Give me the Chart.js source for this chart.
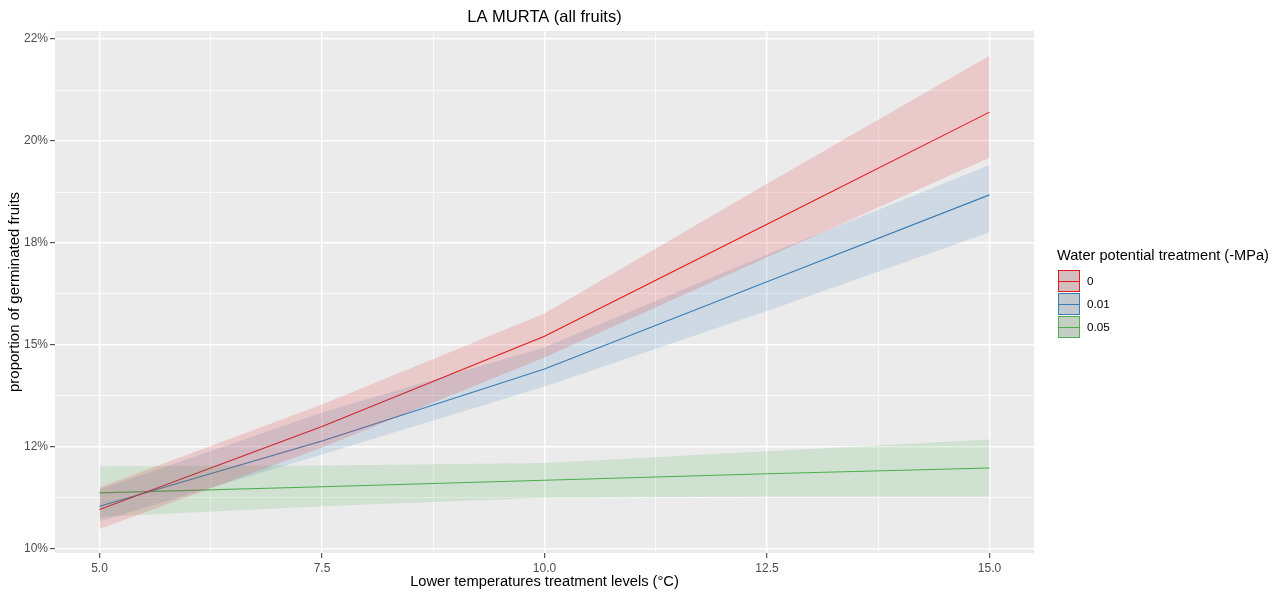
<!DOCTYPE html>
<html>
<head>
<meta charset="utf-8">
<script src="https://cdn.jsdelivr.net/npm/chart.js@4/dist/chart.umd.min.js"></script>
<style>
  html, body { margin: 0; padding: 0; background: #fff; }
  #wrap { width: 1283px; height: 596px; position: relative; }
</style>
</head>
<body>
<div id="wrap"><canvas id="chart"></canvas></div>
<script>
// data
const temps = [5, 7.5, 10, 12.5, 15];
const waterLevels = ["0", "0.01", "0.05"];
const fit0 = [10.96, 13.0, 15.21, 17.96, 20.71];
const low0 = [10.48, 12.48, 14.69, 17.15, 19.59];
const high0 = [11.5, 13.54, 15.77, 18.95, 22.09];
const fit001 = [11.04, 12.64, 14.41, 16.55, 18.68];
const low001 = [10.67, 12.31, 13.98, 15.83, 17.76];
const high001 = [11.45, 13.34, 14.94, 17.22, 19.41];
const fit005 = [11.37, 11.52, 11.68, 11.84, 11.98];
const low005 = [10.78, 11.04, 11.25, 11.28, 11.28];
const high005 = [12.02, 12.04, 12.1, 12.39, 12.68];

const xMajor = [5, 7.5, 10, 12.5, 15];
const xMinor = [6.25, 8.75, 11.25, 13.75];
const yMajor = [10, 12.5, 15, 17.5, 20, 22.5];
const yMinor = [11.25, 13.75, 16.25, 18.75, 21.25];
const yLabels = ["10%", "12%", "15%", "18%", "20%", "22%"];

const title = "LA MURTA (all fruits)";
const xTitle = "Lower temperatures treatment levels (°C)";
const yTitle = "proportion of germinated fruits";
const legendTitle = "Water potential treatment (-MPa)";

const colors = ["#E41A1C", "#377EB8", "#4DAF4A"];
const fits = [fit0, fit001, fit005];
const lows = [low0, low001, low005];
const highs = [high0, high001, high005];

function points(values) {
  return values.map((v, i) => ({ x: temps[i], y: v }));
}

function alpha(hex, a) {
  const n = parseInt(hex.slice(1), 16);
  return `rgba(${(n >> 16) & 255},${(n >> 8) & 255},${n & 255},${a})`;
}

const datasets = [];
waterLevels.forEach((level, i) => {
  datasets.push({
    label: level + " upper",
    data: points(highs[i]),
    borderColor: "rgba(0,0,0,0)",
    borderWidth: 0,
    pointRadius: 0,
    backgroundColor: alpha(colors[i], 0.16),
    fill: "+1",
  });
  datasets.push({
    label: level + " lower",
    data: points(lows[i]),
    borderColor: "rgba(0,0,0,0)",
    borderWidth: 0,
    pointRadius: 0,
    fill: false,
  });
});
waterLevels.forEach((level, i) => {
  datasets.push({
    label: level,
    data: points(fits[i]),
    borderColor: colors[i],
    borderWidth: 1.1,
    pointRadius: 0,
    fill: false,
  });
});

const font = "'Liberation Sans', Arial, sans-serif";

const panelPlugin = {
  id: "panel",
  beforeDraw(chart) {
    const { ctx, chartArea } = chart;
    ctx.save();
    ctx.fillStyle = "#fff";
    ctx.fillRect(0, 0, chart.width, chart.height);
    ctx.fillStyle = "#EBEBEB";
    ctx.fillRect(chartArea.left, chartArea.top, chartArea.right - chartArea.left, chartArea.bottom - chartArea.top);
    ctx.restore();
  },
  afterDraw(chart) {
    const { ctx, chartArea } = chart;
    ctx.save();
    // title
    ctx.fillStyle = "#000";
    ctx.font = "16.5px " + font;
    ctx.textAlign = "center";
    ctx.textBaseline = "middle";
    ctx.fillText(title, (chartArea.left + chartArea.right) / 2, 17);

    // legend
    const lx = 1057;
    ctx.textAlign = "left";
    ctx.font = "14.6px " + font;
    ctx.fillText(legendTitle, lx, 256);
    ctx.font = "11.7px " + font;
    waterLevels.forEach((level, i) => {
      const top = 270 + i * 23;
      ctx.fillStyle = "#D2D2D2";
      ctx.fillRect(lx + 1, top, 22, 22);
      ctx.fillStyle = alpha(colors[i], 0.1);
      ctx.fillRect(lx + 1, top, 22, 22);
      ctx.strokeStyle = colors[i];
      ctx.lineWidth = 1;
      ctx.strokeRect(lx + 1.5, top + 0.5, 21, 21);
      ctx.beginPath();
      ctx.moveTo(lx + 2, top + 11.5);
      ctx.lineTo(lx + 22, top + 11.5);
      ctx.stroke();
      ctx.fillStyle = "#000";
      ctx.fillText(level, lx + 30, top + 12);
    });
    ctx.restore();
  },
};

new Chart(document.getElementById("chart"), {
  type: "line",
  data: { datasets: datasets },
  plugins: [panelPlugin],
  options: {
    responsive: true,
    maintainAspectRatio: false,
    animation: false,
    layout: { padding: { left: 0, right: 249, top: 31, bottom: 0 } },
    elements: { line: { tension: 0 } },
    plugins: {
      legend: { display: false },
      tooltip: { enabled: false },
      title: { display: false },
    },
    scales: {
      x: {
        type: "linear",
        min: 4.5,
        max: 15.5,
        afterBuildTicks: (scale) => {
          scale.ticks = xMajor.concat(xMinor).sort((a, b) => a - b).map((v) => ({ value: v }));
        },
        afterFit: (scale) => {
          scale.height = 43;
        },
        ticks: {
          autoSkip: false,
          maxRotation: 0,
          padding: 3,
          color: "#4D4D4D",
          font: { family: font, size: 12 },
          callback: (v) => (xMajor.includes(v) ? v.toFixed(1) : ""),
        },
        grid: {
          color: "#fff",
          lineWidth: (ctx) => (ctx.tick && xMajor.includes(ctx.tick.value) ? 1.4 : 0.7),
          tickLength: 5,
          tickColor: (ctx) => (ctx.tick && xMajor.includes(ctx.tick.value) ? "#333" : "rgba(0,0,0,0)"),
          tickWidth: 1,
        },
        border: { display: false },
        title: {
          display: true,
          text: xTitle,
          color: "#000",
          font: { family: font, size: 14.7 },
          padding: { top: 5, bottom: 5 },
        },
      },
      y: {
        type: "linear",
        min: 9.894,
        max: 22.7,
        afterBuildTicks: (scale) => {
          scale.ticks = yMajor.concat(yMinor).sort((a, b) => a - b).map((v) => ({ value: v }));
        },
        afterFit: (scale) => {
          scale.width = 55;
        },
        ticks: {
          autoSkip: false,
          padding: 2,
          color: "#4D4D4D",
          font: { family: font, size: 12 },
          callback: (v) => {
            const idx = yMajor.indexOf(v);
            return idx >= 0 ? yLabels[idx] : "";
          },
        },
        grid: {
          color: "#fff",
          lineWidth: (ctx) => (ctx.tick && yMajor.includes(ctx.tick.value) ? 1.4 : 0.7),
          tickLength: 5,
          tickColor: (ctx) => (ctx.tick && yMajor.includes(ctx.tick.value) ? "#333" : "rgba(0,0,0,0)"),
          tickWidth: 1,
        },
        border: { display: false },
        title: {
          display: true,
          text: yTitle,
          color: "#000",
          font: { family: font, size: 15 },
          padding: { top: 6, bottom: 6 },
        },
      },
    },
  },
});
</script>
</body>
</html>
